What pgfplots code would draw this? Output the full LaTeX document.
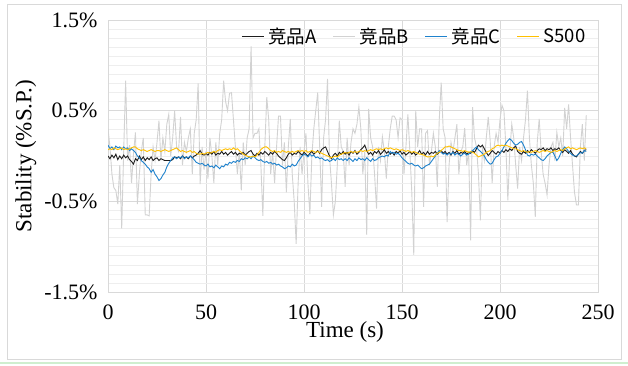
\documentclass[border=0pt]{standalone}
\usepackage{pgfplots}
\pgfplotsset{compat=1.18}
\usepackage{pgfplotstable}
\usepackage{fontspec}
\setmainfont{Liberation Serif}
\newfontfamily\cjk{Noto Sans CJK SC}
\definecolor{cA}{RGB}{30,30,30}
\definecolor{cB}{RGB}{210,210,210}
\definecolor{cC}{RGB}{30,130,205}
\definecolor{cS}{RGB}{255,192,0}
\definecolor{gmaj}{RGB}{217,217,217}
\definecolor{gmin}{RGB}{238,238,238}
\pgfplotstableread{
t A B C S
0 0.00 0.30 0.12 0.07
1 -0.03 0.10 0.08 0.08
2 0.01 -0.20 0.10 0.07
3 -0.02 -0.35 0.07 0.09
4 0.02 -0.38 0.11 0.08
5 -0.04 -0.53 0.09 0.07
6 0.00 -0.10 0.10 0.08
7 -0.03 -0.80 0.07 0.09
8 0.01 0.05 0.10 0.07
9 -0.02 0.83 0.08 0.08
10 0.00 -0.05 0.09 0.07
11 -0.04 0.12 0.06 0.08
12 -0.06 -0.30 0.08 0.09
13 -0.09 0.02 0.06 0.10
14 -0.03 0.26 0.04 0.10
15 -0.05 -0.53 0.00 0.08
16 0.00 -0.20 -0.02 0.07
17 -0.04 0.05 -0.05 0.06
18 -0.01 0.20 -0.07 0.07
19 -0.05 -0.65 -0.09 0.06
20 -0.02 -0.65 -0.12 0.05
21 -0.04 -0.66 -0.14 0.06
22 -0.01 -0.20 -0.18 0.07
23 -0.05 0.10 -0.15 0.06
24 -0.03 -0.05 -0.20 0.05
25 -0.02 0.15 -0.23 0.06
26 -0.05 0.39 -0.27 0.06
27 -0.03 -0.05 -0.25 0.05
28 -0.04 0.20 -0.21 0.06
29 -0.05 0.05 -0.18 0.07
30 -0.05 0.35 -0.12 0.06
31 -0.05 0.46 -0.08 0.05
32 -0.05 0.00 -0.05 0.06
33 -0.04 0.20 -0.02 0.07
34 -0.01 0.50 -0.01 0.08
35 -0.02 0.10 -0.03 0.09
36 -0.01 0.05 -0.01 0.07
37 -0.03 0.43 -0.02 0.05
38 0.00 -0.10 0.00 0.06
39 -0.02 0.15 -0.03 0.05
40 -0.01 0.05 -0.01 0.04
41 -0.03 0.20 -0.02 0.05
42 0.00 0.30 0.00 0.06
43 -0.02 -0.20 -0.02 0.04
44 0.00 0.25 -0.04 0.05
45 0.01 0.40 -0.07 0.03
46 0.03 0.80 -0.08 0.02
47 0.06 -0.31 -0.09 0.02
48 0.02 0.10 -0.08 0.03
49 0.01 -0.15 -0.10 0.02
50 0.03 0.05 -0.11 0.03
51 0.01 -0.25 -0.09 0.04
52 0.04 0.20 -0.12 0.03
53 0.02 0.00 -0.11 0.04
54 0.05 -0.30 -0.13 0.05
55 0.01 0.15 -0.10 0.04
56 0.03 -0.10 -0.12 0.06
57 0.02 0.25 -0.14 0.07
58 0.05 0.40 -0.11 0.06
59 0.02 0.83 -0.12 0.07
60 0.04 0.60 -0.09 0.08
61 0.01 0.50 -0.10 0.07
62 0.03 0.69 -0.07 0.08
63 0.05 0.70 -0.08 0.07
64 0.02 0.40 -0.06 0.09
65 0.04 0.10 -0.07 0.07
66 0.01 -0.20 -0.05 0.08
67 0.03 0.05 -0.06 0.06
68 0.02 -0.38 -0.03 0.04
69 0.04 0.15 -0.04 0.02
70 0.01 -0.10 -0.02 0.01
71 0.03 0.20 -0.03 0.00
72 0.05 0.30 -0.01 -0.01
73 0.06 1.21 -0.03 -0.01
74 0.02 0.20 0.00 0.00
75 0.00 0.25 -0.02 -0.01
76 0.03 0.25 -0.04 0.01
77 0.01 0.30 -0.05 0.04
78 0.04 -0.10 -0.04 0.07
79 0.02 -0.66 -0.06 0.09
80 0.05 0.10 -0.07 0.10
81 0.03 0.65 -0.06 0.10
82 0.01 0.40 -0.08 0.08
83 0.04 -0.20 -0.07 0.06
84 0.02 0.05 -0.09 0.05
85 0.05 -0.30 -0.08 0.06
86 0.03 0.10 -0.10 0.04
87 0.00 0.44 -0.09 0.05
88 -0.02 0.44 -0.11 0.04
89 -0.04 -0.10 -0.12 0.06
90 -0.05 0.15 -0.14 0.05
91 -0.02 -0.40 -0.13 0.04
92 0.02 0.10 -0.11 0.05
93 0.04 0.41 -0.12 0.04
94 0.01 -0.20 -0.09 0.05
95 0.03 -0.50 -0.11 0.04
96 0.02 -0.97 -0.10 0.05
97 0.05 -0.30 -0.06 0.06
98 0.03 0.10 -0.03 0.05
99 0.01 -0.20 0.00 0.06
100 0.04 0.05 0.02 0.05
101 0.02 0.25 0.01 0.06
102 0.00 -0.30 -0.01 0.04
103 0.03 -0.64 0.02 0.05
104 0.05 0.00 0.00 0.06
105 0.02 0.30 0.01 0.05
106 0.04 0.50 -0.02 0.04
107 0.06 0.70 -0.01 0.05
108 0.03 0.10 -0.03 0.04
109 0.07 -0.56 -0.02 0.03
110 0.09 0.20 -0.04 0.02
111 0.10 0.40 -0.05 0.01
112 0.05 0.85 -0.04 0.00
113 0.00 0.00 -0.06 -0.01
114 -0.03 -0.30 -0.05 -0.02
115 0.01 -0.65 -0.03 -0.01
116 0.03 -0.50 -0.05 0.00
117 0.00 -0.10 -0.02 -0.01
118 0.04 0.39 -0.04 0.01
119 0.02 0.10 -0.03 0.02
120 0.05 0.05 -0.05 0.03
121 0.02 -0.34 -0.03 0.04
122 0.04 0.20 -0.05 0.03
123 0.01 -0.10 -0.02 0.04
124 0.05 0.15 -0.04 0.05
125 0.03 0.30 -0.06 0.04
126 0.06 0.25 -0.03 0.05
127 0.02 0.35 -0.05 0.04
128 0.04 0.54 -0.02 0.05
129 0.07 0.30 -0.04 0.06
130 0.09 -0.20 -0.03 0.05
131 0.12 0.05 -0.05 0.06
132 0.06 -0.87 -0.02 0.05
133 0.02 0.52 -0.04 0.06
134 0.04 0.20 -0.06 0.07
135 0.01 0.10 -0.03 0.06
136 0.05 -0.20 -0.05 0.07
137 0.03 -0.58 -0.04 0.08
138 0.06 0.10 -0.02 0.07
139 0.02 -0.05 -0.01 0.08
140 0.04 0.21 0.00 0.07
141 0.07 0.05 -0.01 0.08
142 0.03 -0.25 0.01 0.09
143 0.05 0.10 0.00 0.08
144 0.02 0.30 0.05 0.09
145 0.04 0.44 0.03 0.08
146 0.01 0.44 0.04 0.07
147 0.05 0.40 0.02 0.08
148 0.03 0.20 0.03 0.07
149 0.06 0.42 0.01 0.06
150 0.02 0.40 -0.02 0.07
151 0.04 -0.20 -0.04 0.06
152 0.01 0.10 -0.06 0.05
153 0.03 0.46 -0.08 0.06
154 0.05 0.05 -0.09 0.05
155 0.02 -0.40 -0.08 0.04
156 0.04 -1.09 -0.10 0.05
157 0.01 0.50 -0.11 0.04
158 0.03 0.10 -0.10 0.03
159 0.06 0.30 -0.12 0.02
160 0.02 0.30 -0.14 0.02
161 0.04 -0.56 -0.13 0.01
162 0.01 0.25 -0.11 0.00
163 0.05 0.28 -0.10 -0.01
164 0.02 -0.10 -0.09 -0.01
165 0.04 0.05 -0.06 0.00
166 0.03 0.25 -0.03 -0.01
167 0.05 0.10 0.00 0.01
168 0.02 -0.34 0.03 0.03
169 0.04 0.40 0.06 0.04
170 0.06 0.81 0.04 0.06
171 0.03 0.30 0.02 0.08
172 0.05 0.20 0.03 0.10
173 0.02 -0.73 0.01 0.10
174 0.04 -0.10 0.03 0.11
175 0.01 0.15 0.02 0.10
176 0.05 0.05 0.04 0.09
177 0.03 0.20 0.01 0.08
178 0.06 0.35 0.03 0.07
179 0.02 -0.20 0.02 0.06
180 0.04 0.05 0.00 0.06
181 0.03 0.10 0.02 0.05
182 0.05 0.31 0.03 0.06
183 0.02 -0.10 0.01 0.05
184 0.04 0.05 0.02 0.04
185 0.03 -0.93 0.04 0.05
186 0.06 0.54 0.06 0.04
187 0.04 0.20 0.08 0.03
188 0.08 0.10 0.10 0.01
189 0.12 -0.20 0.07 -0.01
190 0.10 -0.71 0.05 0.00
191 0.12 0.10 0.03 0.01
192 0.08 -0.05 0.00 0.02
193 0.04 0.20 -0.04 0.04
194 0.005 0.43 -0.07 0.05
195 0.03 0.17 -0.09 0.06
196 0.06 -0.30 -0.08 0.08
197 0.04 0.10 -0.04 0.09
198 0.02 0.25 -0.01 0.11
199 0.05 0.15 0.00 0.12
200 0.03 0.40 0.03 0.11
201 0.06 0.56 0.06 0.12
202 0.04 0.50 0.10 0.11
203 0.07 0.10 0.14 0.12
204 0.05 -0.49 0.17 0.11
205 0.08 0.05 0.19 0.10
206 0.06 0.35 0.17 0.09
207 0.09 0.20 0.14 0.08
208 0.11 -0.10 0.12 0.08
209 0.05 -0.36 0.13 0.07
210 0.03 0.10 0.15 0.06
211 0.02 -0.05 0.16 0.05
212 0.05 0.20 0.12 0.06
213 0.03 0.40 0.07 0.05
214 0.06 0.72 0.01 0.04
215 0.04 0.20 0.00 0.05
216 0.07 -0.10 0.02 0.04
217 0.05 -0.30 0.01 0.05
218 0.03 -0.67 0.02 0.06
219 0.06 0.15 0.00 0.05
220 0.08 0.41 -0.02 0.04
221 0.07 0.05 -0.04 0.05
222 0.09 -0.20 -0.05 0.06
223 0.06 -0.30 -0.03 0.05
224 0.08 -0.43 0.00 0.06
225 0.07 -0.10 0.02 0.05
226 0.09 0.10 0.04 0.04
227 0.06 0.15 0.04 0.05
228 0.08 -0.05 0.00 0.06
229 0.07 0.26 -0.05 0.05
230 0.09 0.10 -0.02 0.06
231 0.06 0.20 0.03 0.07
232 0.04 0.00 0.07 0.06
233 0.07 0.53 0.10 0.08
234 0.05 0.30 0.08 0.09
235 0.03 0.57 0.05 0.10
236 0.06 0.20 0.03 0.08
237 0.02 -0.10 0.01 0.09
238 0.00 -0.40 0.00 0.08
239 -0.01 -0.54 0.00 0.07
240 0.02 -0.54 0.02 0.08
241 0.05 0.10 0.04 0.09
242 0.03 0.35 0.03 0.08
243 0.06 -0.05 0.06 0.09
244 0.07 0.45 0.05 0.08
}\datatable
\begin{document}
\begin{tikzpicture}
\useasboundingbox (0,0) rectangle (628pt,365pt);
\fill[white] (0,0) rectangle (628pt,365pt);
\draw[gmaj, line width=0.8pt] (7pt,6pt) rectangle (621pt,361pt);
\draw[green!50!gray!25, line width=1.5pt] (0pt,2pt) -- (628pt,2pt);
\begin{axis}[
  at={(108pt,73pt)}, anchor=south west,
  scale only axis, width=490pt, height=272pt,
  xmin=0, xmax=250, ymin=-1.5, ymax=1.5,
  xtick={0,50,100,150,200,250},
  ytick={-1.5,-0.5,0.5,1.5},
  minor y tick num=9,
  ymajorgrids, yminorgrids, xmajorgrids,
  major grid style={gmaj, line width=0.7pt},
  minor grid style={gmin, line width=0.6pt},
  axis line style={gmaj, line width=0.7pt},
  major tick length=0pt, minor tick length=0pt,
  /pgf/number format/assume math mode=true,
  tick label style={font=\fontsize{22}{24}\selectfont},
  yticklabel={\pgfmathprintnumber[fixed,fixed zerofill,precision=1]{\tick}\%},
  xticklabel style={yshift=-9pt},
  yticklabel style={xshift=-7pt},
  xlabel={Time (s)},
  ylabel={Stability (\%S.P.)},
  label style={font=\fontsize{23}{25}\selectfont},
  xlabel style={yshift=5pt, xshift=-8pt},
  ylabel style={yshift=1pt},
  legend columns=-1,
  legend style={draw=none, fill=none, at={(rel axis cs:0.985,0.985)}, anchor=north east,
    font=\cjk\fontsize{18.5}{21}\selectfont,
    /tikz/every odd column/.append style={column sep=2pt},
    /tikz/every even column/.append style={column sep=14pt}},
  legend image code/.code={\draw[#1] (0pt,0pt) -- (22pt,0pt);},
]
\addplot[draw=cB, line width=0.9pt, forget plot] table[x=t, y=B] {\datatable};
\addplot[draw=cA, line width=0.9pt, forget plot] table[x=t, y=A] {\datatable};
\addplot[draw=cC, line width=0.9pt, forget plot] table[x=t, y=C] {\datatable};
\addplot[draw=cS, line width=0.9pt, forget plot] table[x=t, y=S] {\datatable};
\addlegendimage{draw=cA, line width=1pt}
\addlegendentry{竞品A}
\addlegendimage{draw=cB, line width=1pt}
\addlegendentry{竞品B}
\addlegendimage{draw=cC, line width=1pt}
\addlegendentry{竞品C}
\addlegendimage{draw=cS, line width=1pt}
\addlegendentry{S500}
\end{axis}
\end{tikzpicture}
\end{document}
